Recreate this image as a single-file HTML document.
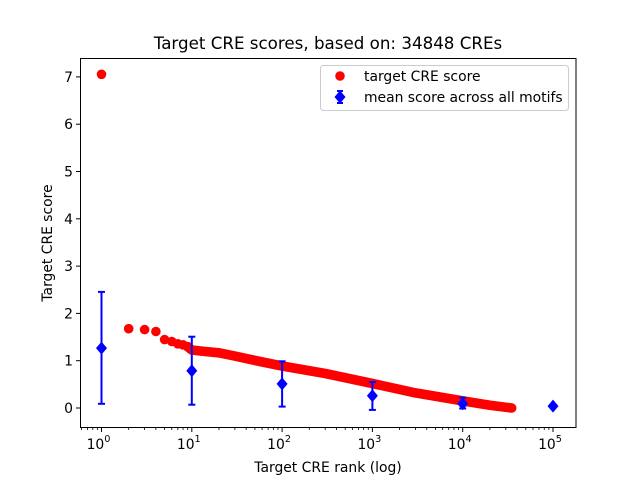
<!DOCTYPE html>
<html><head><meta charset="utf-8"><style>body{margin:0;background:#fff}svg{display:block}text{font-family:"DejaVu Sans","Liberation Sans",sans-serif;fill:#000}</style></head><body>
<svg width="640" height="480" viewBox="0 0 640 480" xmlns="http://www.w3.org/2000/svg">
<rect width="640" height="480" fill="#fff"/>
<text x="328" y="49" font-size="16.7" text-anchor="middle">Target CRE scores, based on: 34848 CREs</text>
<g fill="#f00">
<circle cx="101.5" cy="74.3" r="4.8"/><circle cx="128.7" cy="328.7" r="4.8"/><circle cx="144.6" cy="329.6" r="4.8"/><circle cx="155.9" cy="331.5" r="4.8"/><circle cx="164.6" cy="339.6" r="4.8"/><circle cx="171.8" cy="341.5" r="4.8"/><circle cx="177.8" cy="343.8" r="4.8"/><circle cx="183" cy="344.8" r="4.8"/><circle cx="187.7" cy="346.7" r="4.8"/>
</g>
<polyline points="187.7,346.7 191.8,350 205,351.5 219,352.8 234.9,356.1 260,361.5 282.1,366 325.2,373.5 372.4,383.5 415.5,392.9 462.7,400.9 489.9,405.2 511.7,408" fill="none" stroke="#f00" stroke-width="9.6" stroke-linecap="round" stroke-linejoin="round"/>
<g stroke="#00f" stroke-width="2">
<line x1="101.5" y1="291.9" x2="101.5" y2="403.8"/><line x1="98" y1="291.9" x2="105" y2="291.9"/><line x1="98" y1="403.8" x2="105" y2="403.8"/>
<line x1="191.8" y1="336.7" x2="191.8" y2="404.7"/><line x1="188.3" y1="336.7" x2="195.3" y2="336.7"/><line x1="188.3" y1="404.7" x2="195.3" y2="404.7"/>
<line x1="282.1" y1="361.3" x2="282.1" y2="406.6"/><line x1="278.6" y1="361.3" x2="285.6" y2="361.3"/><line x1="278.6" y1="406.6" x2="285.6" y2="406.6"/>
<line x1="372.4" y1="382" x2="372.4" y2="409.9"/><line x1="368.9" y1="382" x2="375.9" y2="382"/><line x1="368.9" y1="409.9" x2="375.9" y2="409.9"/>
<line x1="462.7" y1="397.6" x2="462.7" y2="408.5"/><line x1="459.2" y1="397.6" x2="466.2" y2="397.6"/><line x1="459.2" y1="408.5" x2="466.2" y2="408.5"/>
</g>
<g fill="#00f">
<path d="M101.5 341.6 l5.5 6.5 -5.5 6.5 -5.5 -6.5z"/>
<path d="M191.8 364.2 l5.5 6.5 -5.5 6.5 -5.5 -6.5z"/>
<path d="M282.1 377.4 l5.5 6.5 -5.5 6.5 -5.5 -6.5z"/>
<path d="M372.4 389.2 l5.5 6.5 -5.5 6.5 -5.5 -6.5z"/>
<path d="M462.7 397.3 l5.5 6.5 -5.5 6.5 -5.5 -6.5z"/>
<path d="M553 399.6 l5.5 6.5 -5.5 6.5 -5.5 -6.5z"/>
</g>
<rect x="80.5" y="58.5" width="495.5" height="369" fill="none" stroke="#000" stroke-width="1"/>
<g stroke="#000" stroke-width="1">
<line x1="76" y1="408" x2="80" y2="408"/><line x1="76" y1="360.7" x2="80" y2="360.7"/><line x1="76" y1="313.4" x2="80" y2="313.4"/><line x1="76" y1="266.1" x2="80" y2="266.1"/><line x1="76" y1="218.8" x2="80" y2="218.8"/><line x1="76" y1="171.5" x2="80" y2="171.5"/><line x1="76" y1="124.2" x2="80" y2="124.2"/><line x1="76" y1="76.9" x2="80" y2="76.9"/>
</g>
<g font-size="13.9" text-anchor="end">
<text x="73" y="413">0</text><text x="73" y="365.7">1</text><text x="73" y="318.4">2</text><text x="73" y="271.1">3</text><text x="73" y="223.8">4</text><text x="73" y="176.5">5</text><text x="73" y="129.2">6</text><text x="73" y="81.9">7</text>
</g>
<g stroke="#000" stroke-width="1">
<line x1="101.5" y1="428" x2="101.5" y2="432"/><line x1="191.8" y1="428" x2="191.8" y2="432"/><line x1="282.1" y1="428" x2="282.1" y2="432"/><line x1="372.4" y1="428" x2="372.4" y2="432"/><line x1="462.7" y1="428" x2="462.7" y2="432"/><line x1="553" y1="428" x2="553" y2="432"/>
</g>
<g stroke="#000" stroke-width="0.8" id="minor"></g>
<g font-size="13.9" text-anchor="middle">
<text x="98.5" y="449">10<tspan font-size="9.7" dy="-7">0</tspan></text>
<text x="188.8" y="449">10<tspan font-size="9.7" dy="-7">1</tspan></text>
<text x="279.1" y="449">10<tspan font-size="9.7" dy="-7">2</tspan></text>
<text x="369.4" y="449">10<tspan font-size="9.7" dy="-7">3</tspan></text>
<text x="459.7" y="449">10<tspan font-size="9.7" dy="-7">4</tspan></text>
<text x="550" y="449">10<tspan font-size="9.7" dy="-7">5</tspan></text>
</g>
<text x="328" y="472" font-size="13.9" text-anchor="middle">Target CRE rank (log)</text>
<text x="0" y="0" font-size="13.9" text-anchor="middle" transform="translate(52,243) rotate(-90)">Target CRE score</text>
<rect x="320.5" y="65.5" width="248" height="45" rx="3" fill="#fff" stroke="#ccc"/>
<circle cx="340" cy="76" r="4.8" fill="#f00"/>
<text x="364" y="81" font-size="13.9">target CRE score</text>
<g stroke="#00f" stroke-width="2"><line x1="340" y1="91" x2="340" y2="103"/><line x1="337" y1="91" x2="343" y2="91"/><line x1="337" y1="103" x2="343" y2="103"/></g>
<path d="M340 90.5 l5.5 6.5 -5.5 6.5 -5.5 -6.5z" fill="#00f"/>
<text x="364" y="102" font-size="13.9">mean score across all motifs</text>
</svg>
<script>
var g=document.getElementById('minor'),s='';
for(var d=-1;d<5;d++)for(var k=2;k<10;k++){var x=101.5+90.3*(d+Math.log10(k));if(x>80.5&&x<576)s+='<line x1="'+x+'" y1="428" x2="'+x+'" y2="430"/>';}
g.innerHTML=s;
</script>
</body></html>
